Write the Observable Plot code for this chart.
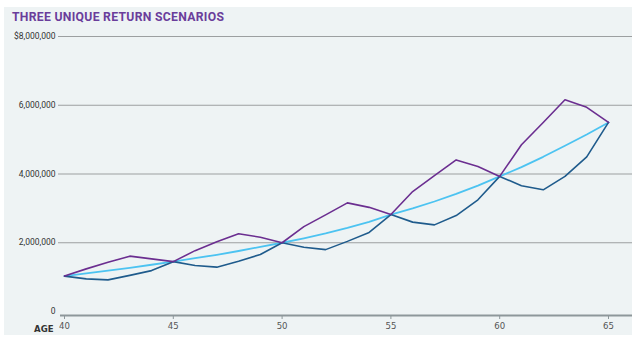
<!DOCTYPE html>
<html><head><meta charset="utf-8">
<script src="https://cdn.jsdelivr.net/npm/d3@7"></script>
<script src="https://cdn.jsdelivr.net/npm/@observablehq/plot@0.6"></script>
<style>
body{margin:0;background:#fff;}
#wrap{position:relative;width:632px;height:337px;overflow:hidden;}
#bg{position:absolute;left:4px;top:7px;width:628px;height:328px;background:#eef3f4;}
#title{position:absolute;left:12px;top:10.5px;font-family:Roboto,sans-serif;font-weight:700;font-size:12.2px;line-height:1;color:#6a3d9b;letter-spacing:0.3px;white-space:nowrap;}
#chart{position:absolute;left:0;top:0;}
</style></head><body>
<div id="wrap"><div id="bg"></div><div id="title">THREE UNIQUE RETURN SCENARIOS</div><div id="chart"></div></div>
<script>
const ages = [40,41,42,43,44,45,46,47,48,49,50,51,52,53,54,55,56,57,58,59,60,61,62,63,64,65];
const steady = [1030000,1110000,1190000,1270000,1360000,1450000,1550000,1650000,1760000,1880000,2000000,2130000,2270000,2430000,2610000,2820000,3000000,3200000,3420000,3660000,3930000,4200000,4500000,4820000,5150000,5500000];
const earlyGains = [1030000,1240000,1430000,1610000,1530000,1450000,1770000,2030000,2260000,2160000,2000000,2470000,2810000,3160000,3030000,2820000,3490000,3950000,4410000,4220000,3930000,4850000,5500000,6160000,5940000,5500000];
const earlyLosses = [1030000,950000,920000,1050000,1190000,1450000,1340000,1290000,1460000,1660000,2000000,1870000,1800000,2040000,2300000,2820000,2600000,2520000,2790000,3250000,3930000,3660000,3540000,3930000,4500000,5500000];
const yTicks = [0,2000000,4000000,6000000,8000000];
const yTickLabels = ["0","2,000,000","4,000,000","6,000,000","$8,000,000"];
const gridValues = [2000000,4000000,6000000,8000000];
const xTicks = [40,45,50,55,60,65];
const xTitle = "AGE";

const rows = (vals) => ages.map((a,i)=>({age:a, value:vals[i]}));
const narrow = "'Liberation Sans Narrow','DejaVu Sans Condensed','Roboto Condensed',sans-serif";

const chart = Plot.plot({
  width: 632, height: 337,
  marginLeft: 64, marginRight: 24, marginTop: 36, marginBottom: 26,
  style: {background: "transparent", fontFamily: "Roboto, sans-serif", overflow: "visible"},
  x: {domain: [40, 65], axis: null},
  y: {domain: [0, 8000000], axis: null},
  marks: [
    Plot.ruleY(gridValues, {stroke: "#9c9fa0", strokeWidth: 1.2, insetLeft: -6, insetRight: -24}),
    Plot.ruleY([0], {stroke: "#8d979a", strokeWidth: 2, dy: 4, insetLeft: -4, insetRight: -24}),
    Plot.axisY(yTicks, {label: null, tickSize: 0, tickPadding: 9, fontSize: 8.5, fill: "#333", tickFormat: d => yTickLabels[yTicks.indexOf(d)]}),
    Plot.axisX(xTicks, {label: null, tickSize: 4, tickPadding: 3, dy: 4, stroke: "#8d979a", fill: "#555", fontSize: 9.5, fontFamily: narrow}),
    Plot.text([xTitle], {frameAnchor: "bottom-left", dx: -11, dy: 13.5, textAnchor: "end", lineAnchor: "top", fontSize: 9.5, fontWeight: "bold", fontFamily: narrow, fill: "#333"}),
    Plot.line(rows(steady), {x: "age", y: "value", stroke: "#4cc3f1", strokeWidth: 1.8}),
    Plot.line(rows(earlyLosses), {x: "age", y: "value", stroke: "#1f5b8c", strokeWidth: 1.6}),
    Plot.line(rows(earlyGains), {x: "age", y: "value", stroke: "#6b2e90", strokeWidth: 1.6})
  ]
});
document.getElementById("chart").appendChild(chart);
</script>
</body></html>
